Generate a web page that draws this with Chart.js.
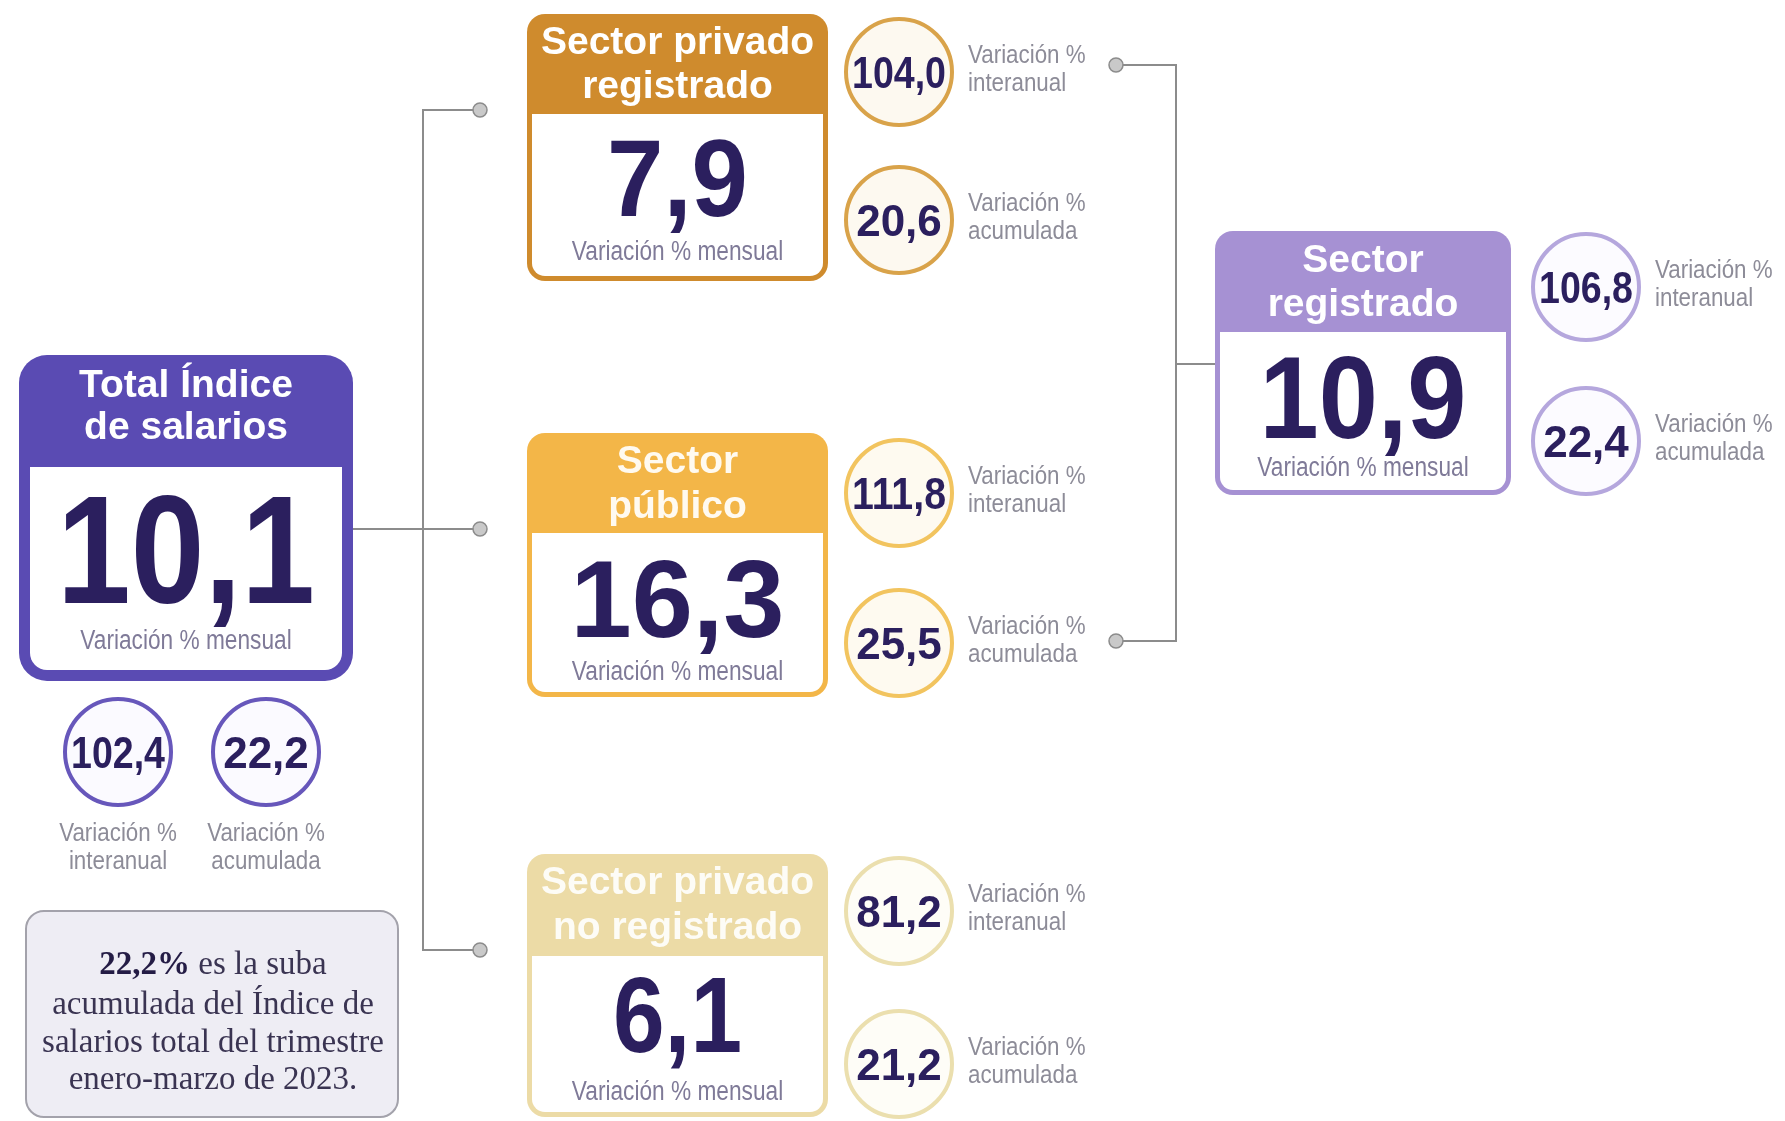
<!DOCTYPE html>
<html lang="es">
<head>
<meta charset="utf-8">
<title>Índice de salarios</title>
<script src="https://cdn.jsdelivr.net/npm/chart.js@4.4.1/dist/chart.umd.min.js"></script>
<style>
  html, body { margin: 0; padding: 0; background: #ffffff; }
  #wrap { width: 1785px; height: 1121px; }
</style>
</head>
<body>
<div id="wrap"><canvas id="salarios" width="1785" height="1121"></canvas></div>
<script>
(function () {
  // --- datos ---
  var titles = [
    ['Total Índice', 'de salarios'],
    ['Sector privado', 'registrado'],
    ['Sector', 'público'],
    ['Sector privado', 'no registrado'],
    ['Sector', 'registrado']
  ];
  var mensual = [10.1, 7.9, 16.3, 6.1, 10.9];
  var interanual = [102.4, 104.0, 111.8, 81.2, 106.8];
  var acumulada = [22.2, 20.6, 25.5, 21.2, 22.4];
  var mensualLabel = 'Variación % mensual';
  var interanualLabel = ['Variación %', 'interanual'];
  var acumuladaLabel = ['Variación %', 'acumulada'];
  var noteText = [' es la suba', 'acumulada del Índice de', 'salarios total del trimestre', 'enero-marzo de 2023.'];

  // --- layout (posiciones y estilos) ---
  var boxLayout = [
    { x0: 19, y0: 355, x1: 353, y1: 681, head: 467, border: 11, radius: 28, color: '#5a4bb3', titleColor: '#ffffff', titleY: [386, 428], numY: 548, numFont: 154, numMax: 258, labelY: 642 },
    { x0: 527, y0: 14, x1: 828, y1: 281, head: 114, border: 5, radius: 18, color: '#cf8b2d', titleColor: '#ffffff', titleY: [43, 87], numY: 177, numFont: 110, numMax: 141, labelY: 253 },
    { x0: 527, y0: 433, x1: 828, y1: 697, head: 533, border: 5, radius: 18, color: '#f3b648', titleColor: '#fffaf0', titleY: [462, 507], numY: 598, numFont: 110, numMax: 260, labelY: 673 },
    { x0: 527, y0: 854, x1: 828, y1: 1117, head: 956, border: 5, radius: 18, color: '#ecdba6', titleColor: 'rgba(255,255,255,0.9)', titleY: [883, 928], numY: 1014, numFont: 107, numMax: 129, labelY: 1093 },
    { x0: 1215, y0: 231, x1: 1511, y1: 495, head: 332, border: 5, radius: 18, color: '#a691d3', titleColor: '#ffffff', titleY: [261, 305], numY: 396, numFont: 116, numMax: 207, labelY: 469 }
  ];
  var circleLayout = [
    { pos: [[118, 752], [266, 752]], border: '#6757bb', fill: '#fbfaff', label: 'below' },
    { pos: [[899, 72], [899, 220]], border: '#d9a34a', fill: '#fdf9f0', label: 'right' },
    { pos: [[899, 493], [899, 643]], border: '#f2c45f', fill: '#fefaf0', label: 'right' },
    { pos: [[899, 911], [899, 1064]], border: '#ebdfae', fill: '#fefdf7', label: 'right' },
    { pos: [[1586, 287], [1586, 441]], border: '#b5a7dd', fill: '#fcfbff', label: 'right' }
  ];
  var circleRadius = 53;
  var connectors = [
    [[480, 110], [423, 110], [423, 950], [480, 950]],
    [[353, 529], [480, 529]],
    [[1116, 65], [1176, 65], [1176, 641], [1116, 641]],
    [[1176, 364], [1215, 364]]
  ];
  var knobs = [[480, 110], [480, 529], [480, 950], [1116, 65], [1116, 641]];
  var noteBox = { x0: 26, y0: 911, x1: 398, y1: 1117, cx: 213, lineY: [965, 1005, 1043, 1080] };

  var ink = '#2b1f5e';
  var lineGray = '#8c8c8c';
  var sans = '"Liberation Sans", Arial, sans-serif';
  var serif = '"Liberation Serif", "DejaVu Serif", serif';

  function fmt(v) {
    return v.toFixed(1).replace('.', ',');
  }

  function toPoints(list) {
    return list.map(function (p) { return { x: p[0], y: p[1] }; });
  }

  // texto estrecho: se comprime en horizontal
  function narrowText(ctx, text, x, y, align, squeeze) {
    var w = ctx.measureText(text).width * squeeze;
    var left = align === 'center' ? x - w / 2 : x;
    ctx.save();
    ctx.textAlign = 'left';
    ctx.translate(left, y);
    ctx.scale(squeeze, 1);
    ctx.fillText(text, 0, 0);
    ctx.restore();
  }

  var circlePoints = [];
  var circleBorders = [];
  var circleFills = [];
  var circleValues = [];
  circleLayout.forEach(function (c, i) {
    circlePoints.push({ x: c.pos[0][0], y: c.pos[0][1] }, { x: c.pos[1][0], y: c.pos[1][1] });
    circleBorders.push(c.border, c.border);
    circleFills.push(c.fill, c.fill);
    circleValues.push(interanual[i], acumulada[i]);
  });

  var datasets = connectors.map(function (path) {
    return {
      data: toPoints(path),
      showLine: true,
      borderColor: lineGray,
      borderWidth: 2,
      pointRadius: 0,
      fill: false,
      order: 3
    };
  });
  datasets.push({
    data: toPoints(knobs),
    pointRadius: 7,
    pointBackgroundColor: '#c9c9c9',
    pointBorderColor: '#8c8c8c',
    pointBorderWidth: 1.5,
    order: 2
  });
  datasets.push({
    data: circlePoints,
    pointRadius: circleRadius,
    pointBorderWidth: 4,
    pointBorderColor: circleBorders,
    pointBackgroundColor: circleFills,
    order: 1
  });
  var circleIndex = datasets.length - 1;

  function roundRect(ctx, x, y, w, h, r) {
    ctx.beginPath();
    ctx.roundRect(x, y, w, h, r);
  }

  var infografia = {
    id: 'infografia',
    beforeDatasetsDraw: function (chart) {
      var ctx = chart.ctx;
      var sx = chart.scales.x;
      var sy = chart.scales.y;
      ctx.save();

      // recuadro de nota
      var nx0 = sx.getPixelForValue(noteBox.x0), ny0 = sy.getPixelForValue(noteBox.y0);
      var nx1 = sx.getPixelForValue(noteBox.x1), ny1 = sy.getPixelForValue(noteBox.y1);
      roundRect(ctx, nx0, ny0, nx1 - nx0, ny1 - ny0, 18);
      ctx.fillStyle = '#eeedf4';
      ctx.fill();
      ctx.strokeStyle = '#a3a2ab';
      ctx.lineWidth = 2;
      ctx.stroke();

      // cajas de cada sector
      boxLayout.forEach(function (b) {
        var x0 = sx.getPixelForValue(b.x0), y0 = sy.getPixelForValue(b.y0);
        var x1 = sx.getPixelForValue(b.x1), y1 = sy.getPixelForValue(b.y1);
        var hy = sy.getPixelForValue(b.head);
        roundRect(ctx, x0, y0, x1 - x0, y1 - y0, b.radius);
        ctx.fillStyle = b.color;
        ctx.fill();
        var ir = Math.max(b.radius - b.border, 2);
        roundRect(ctx, x0 + b.border, hy, x1 - x0 - 2 * b.border, y1 - b.border - hy, [0, 0, ir, ir]);
        ctx.fillStyle = '#ffffff';
        ctx.fill();
      });
      ctx.restore();
    },
    afterDatasetsDraw: function (chart) {
      var ctx = chart.ctx;
      var sx = chart.scales.x;
      var sy = chart.scales.y;
      ctx.save();
      ctx.textAlign = 'center';

      boxLayout.forEach(function (b, i) {
        var cx = sx.getPixelForValue((b.x0 + b.x1) / 2);
        // título
        ctx.fillStyle = b.titleColor;
        ctx.font = 'bold 39px ' + sans;
        ctx.textBaseline = 'middle';
        titles[i].forEach(function (line, k) {
          ctx.fillText(line, cx, sy.getPixelForValue(b.titleY[k]));
        });
        // valor mensual
        ctx.fillStyle = ink;
        ctx.font = 'bold ' + b.numFont + 'px ' + sans;
        ctx.textBaseline = 'alphabetic';
        ctx.fillText(fmt(mensual[i]), cx, sy.getPixelForValue(b.numY) + b.numFont * 0.358, b.numMax);
        // etiqueta
        ctx.fillStyle = '#7f7a98';
        ctx.font = '27px ' + sans;
        ctx.textBaseline = 'middle';
        narrowText(ctx, mensualLabel, cx, sy.getPixelForValue(b.labelY), 'center', 0.84);
      });

      // valores en círculos
      var meta = chart.getDatasetMeta(circleIndex);
      meta.data.forEach(function (pt, j) {
        ctx.fillStyle = ink;
        ctx.font = 'bold 44px ' + sans;
        ctx.textAlign = 'center';
        ctx.textBaseline = 'alphabetic';
        ctx.fillText(fmt(circleValues[j]), pt.x, pt.y + 44 * 0.358, 2 * circleRadius - 12);

        var sector = Math.floor(j / 2);
        var lines = j % 2 === 0 ? interanualLabel : acumuladaLabel;
        var place = circleLayout[sector].label;
        ctx.fillStyle = '#8d8c98';
        ctx.font = '26px ' + sans;
        ctx.textBaseline = 'middle';
        if (place === 'below') {
          narrowText(ctx, lines[0], pt.x, pt.y + 82, 'center', 0.86);
          narrowText(ctx, lines[1], pt.x, pt.y + 110, 'center', 0.86);
        } else {
          narrowText(ctx, lines[0], pt.x + 69, pt.y - 16, 'left', 0.86);
          narrowText(ctx, lines[1], pt.x + 69, pt.y + 12, 'left', 0.86);
        }
      });

      // texto de la nota
      var ncx = sx.getPixelForValue(noteBox.cx);
      ctx.fillStyle = '#3a3452';
      ctx.textBaseline = 'middle';
      ctx.textAlign = 'left';
      var bold = fmt(acumulada[0]) + '%';
      ctx.font = 'bold 33px ' + serif;
      var wb = ctx.measureText(bold).width;
      ctx.font = '33px ' + serif;
      var wr = ctx.measureText(noteText[0]).width;
      var startX = ncx - (wb + wr) / 2;
      var y0 = sy.getPixelForValue(noteBox.lineY[0]);
      ctx.font = 'bold 33px ' + serif;
      ctx.fillStyle = '#241c45';
      ctx.fillText(bold, startX, y0);
      ctx.font = '33px ' + serif;
      ctx.fillStyle = '#3a3452';
      ctx.fillText(noteText[0], startX + wb, y0);
      ctx.textAlign = 'center';
      for (var k = 1; k < noteText.length; k++) {
        ctx.fillText(noteText[k], ncx, sy.getPixelForValue(noteBox.lineY[k]), 350);
      }
      ctx.restore();
    }
  };

  new Chart(document.getElementById('salarios'), {
    type: 'scatter',
    data: { datasets: datasets },
    options: {
      responsive: false,
      animation: false,
      events: [],
      layout: { padding: 0, autoPadding: false },
      plugins: {
        legend: { display: false },
        tooltip: { enabled: false }
      },
      scales: {
        x: { type: 'linear', min: 0, max: 1785, display: false },
        y: { type: 'linear', min: 0, max: 1121, reverse: true, display: false }
      }
    },
    plugins: [infografia]
  });
})();
</script>
</body>
</html>
